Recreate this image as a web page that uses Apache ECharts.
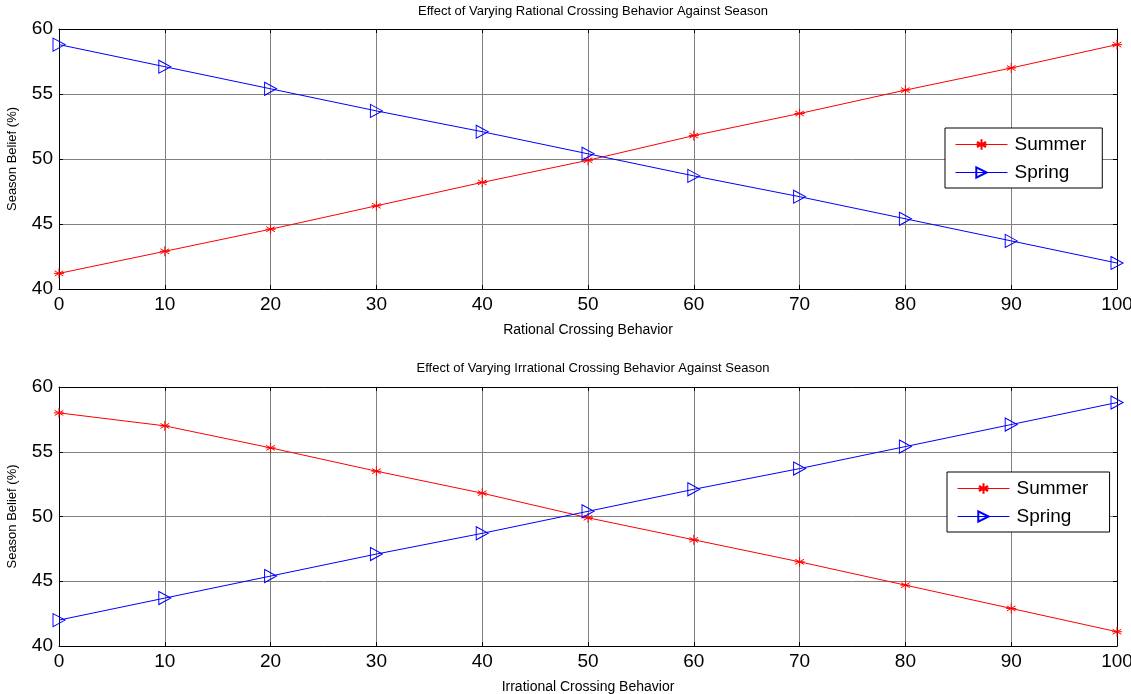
<!DOCTYPE html>
<html>
<head>
<meta charset="utf-8">
<script src="https://cdn.jsdelivr.net/npm/echarts@6/dist/echarts.min.js"></script>
<style>
  html, body { margin: 0; padding: 0; background: #fff; }
  #chart { width: 1131px; height: 694px; }
</style>
</head>
<body>
<div id="chart"></div>
<script>
// 数据
const xValues = [0, 10, 20, 30, 40, 50, 60, 70, 80, 90, 100];
const rationalSummer = [41.2, 42.9, 44.6, 46.4, 48.2, 49.9, 51.8, 53.5, 55.3, 57.0, 58.8];
const rationalSpring = [58.8, 57.1, 55.4, 53.7, 52.1, 50.4, 48.7, 47.1, 45.4, 43.7, 42.0];
const irrationalSummer = [58.0, 57.0, 55.3, 53.5, 51.8, 49.9, 48.2, 46.5, 44.7, 42.9, 41.1];
const irrationalSpring = [42.0, 43.7, 45.4, 47.1, 48.7, 50.4, 52.1, 53.7, 55.4, 57.1, 58.8];

const titles = [
  'Effect of Varying Rational Crossing Behavior Against Season',
  'Effect of Varying Irrational Crossing Behavior Against Season'
];
const xNames = ['Rational Crossing Behavior', 'Irrational Crossing Behavior'];

const font = 'Arial, "Liberation Sans", sans-serif';
const asterisk = 'path://M5,0L5,10M0.7,2.5L9.3,7.5M0.7,7.5L9.3,2.5M0,5L10,5';
const triangle = 'path://M0,0L10,6L0,12Z';

const toPairs = arr => arr.map((v, i) => [xValues[i], v]);

const grids = [
  { left: 59, right: 14, top: 29, height: 260, outerBoundsMode: 'none', containLabel: false },
  { left: 59, right: 14, top: 387, height: 259, outerBoundsMode: 'none', containLabel: false }
];

const xAxes = [];
const yAxes = [];
grids.forEach((g, i) => {
  xAxes.push({
    type: 'value', gridIndex: i, min: 0, max: 100, interval: 10,
    name: xNames[i], nameLocation: 'middle', nameGap: 34,
    nameTextStyle: { fontSize: 14, fontFamily: font, color: '#000' },
    axisLine: { show: true, lineStyle: { color: '#000', width: 1 } },
    axisTick: { show: true, inside: true, length: 4, lineStyle: { color: '#000' } },
    axisLabel: { fontSize: 19, fontFamily: font, color: '#000', margin: 6 },
    splitLine: { show: true, lineStyle: { color: '#808080', width: 1 } }
  });
  // 顶部边框
  xAxes.push({
    type: 'value', gridIndex: i, position: 'top', min: 0, max: 100, interval: 10,
    axisLine: { show: true, onZero: false, lineStyle: { color: '#000', width: 1 } },
    axisTick: { show: true, inside: true, length: 4, lineStyle: { color: '#000' } },
    axisLabel: { show: false },
    splitLine: { show: false }
  });
  yAxes.push({
    type: 'value', gridIndex: i, min: 40, max: 60, interval: 5,
    name: 'Season Belief (%)', nameLocation: 'middle', nameGap: 40,
    nameTextStyle: { fontSize: 13, fontFamily: font, color: '#000' },
    axisLine: { show: true, lineStyle: { color: '#000', width: 1 } },
    axisTick: { show: true, inside: true, length: 4, lineStyle: { color: '#000' } },
    axisLabel: { fontSize: 19, fontFamily: font, color: '#000', margin: 6 },
    splitLine: { show: true, lineStyle: { color: '#808080', width: 1 } }
  });
  // 右侧边框
  yAxes.push({
    type: 'value', gridIndex: i, position: 'right', min: 40, max: 60, interval: 5,
    axisLine: { show: true, onZero: false, lineStyle: { color: '#000', width: 1 } },
    axisTick: { show: true, inside: true, length: 4, lineStyle: { color: '#000' } },
    axisLabel: { show: false },
    splitLine: { show: false }
  });
});

const makeSeries = (name, data, idx, isSummer) => ({
  name, type: 'line', data: toPairs(data),
  xAxisIndex: idx * 2, yAxisIndex: idx * 2,
  symbol: isSummer ? asterisk : triangle,
  symbolSize: isSummer ? [10, 10] : [12, 13],
  showAllSymbol: true,
  lineStyle: { color: isSummer ? '#ff0000' : '#0000ff', width: 1 },
  itemStyle: {
    color: 'rgba(255,255,255,0)',
    borderColor: isSummer ? '#ff0000' : '#0000ff',
    borderWidth: 1
  },
  emphasis: { disabled: true },
  animation: false
});

const legendBase = {
  orient: 'vertical',
  backgroundColor: '#fff',
  borderColor: '#000',
  borderWidth: 1,
  borderRadius: 0,
  padding: [7, 16, 6, 10],
  itemWidth: 52,
  itemHeight: 13,
  itemGap: 9,
  lineStyle: { width: 1, color: 'inherit' },
  textStyle: { fontSize: 19, fontFamily: font, color: '#000', padding: [0, 0, 0, 2] }
};

const chart = echarts.init(document.getElementById('chart'));
chart.setOption({
  backgroundColor: '#fff',
  animation: false,
  title: titles.map((t, i) => ({
    text: t, left: 588, textAlign: 'center', top: i === 0 ? 0 : 357,
    textStyle: { fontSize: 13, fontWeight: 'normal', fontFamily: font, color: '#000' }
  })),
  legend: [
    Object.assign({}, legendBase, { left: 945, top: 128, data: ['Summer', 'Spring'] }),
    Object.assign({}, legendBase, { left: 947, top: 472, data: ['Summer ', 'Spring '] })
  ],
  grid: grids,
  xAxis: xAxes,
  yAxis: yAxes,
  series: [
    makeSeries('Summer', rationalSummer, 0, true),
    makeSeries('Spring', rationalSpring, 0, false),
    makeSeries('Summer ', irrationalSummer, 1, true),
    makeSeries('Spring ', irrationalSpring, 1, false)
  ]
});
</script>
</body>
</html>
